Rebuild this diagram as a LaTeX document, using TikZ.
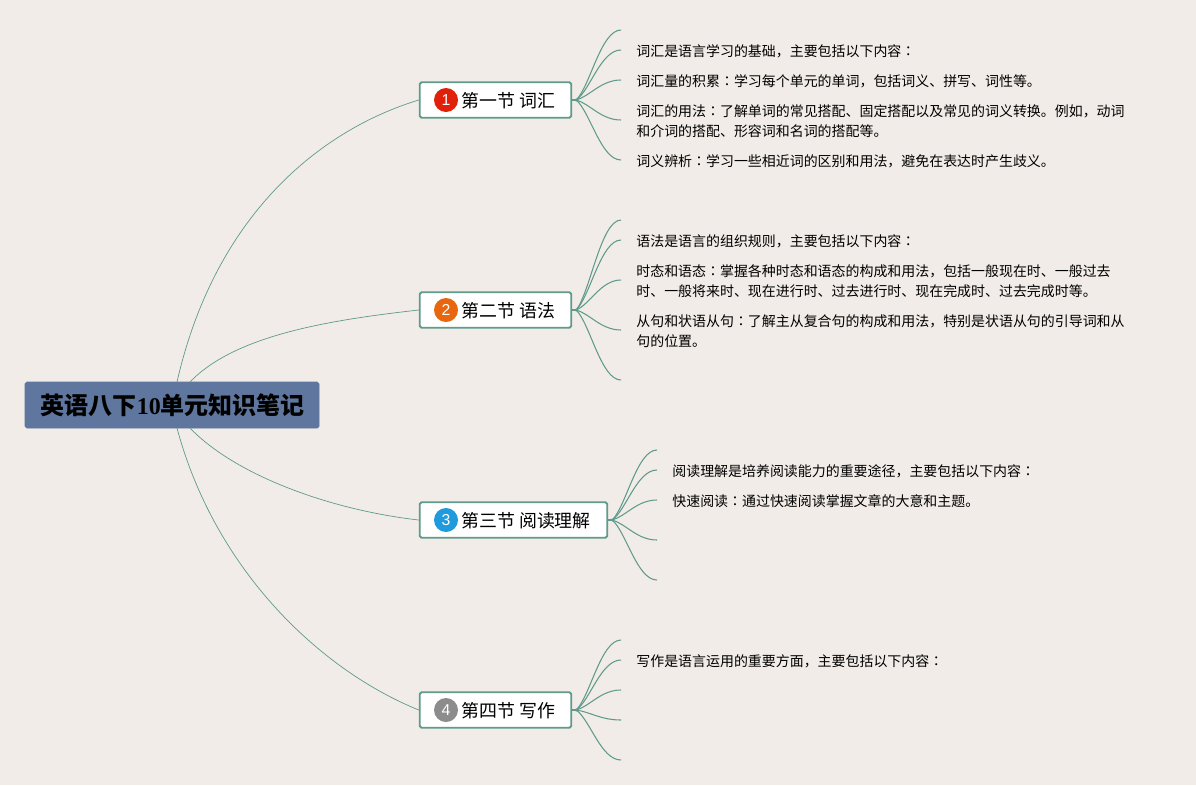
\documentclass[tikz,border=0pt]{standalone}
\usepackage{fontspec}
\setmainfont{Noto Sans CJK SC}
\newfontfamily\digitfont{Liberation Serif}
\newfontfamily\badgefont{Liberation Sans}
\newfontfamily\colonfont{Noto Sans CJK TC}
\newcommand{\mycolon}{{\colonfont ：}}
\usetikzlibrary{positioning,calc}
\definecolor{paper}{HTML}{F1ECE7}
\definecolor{branchgreen}{HTML}{5F9A8C}
\definecolor{rootblue}{HTML}{5F779E}
\tikzset{
    rootnode/.style={draw=rootblue,fill=rootblue,rounded corners=1pt,minimum width=294*0.02cm,minimum height=46*0.02cm,inner sep=0,font=\fontsize{13.65pt}{16pt}\selectfont\bfseries},
    sectionnode/.style={draw=branchgreen,fill=white,line width=1.1pt,rounded corners=1pt,minimum height=35.5*0.02cm,inner sep=0,anchor=west,font=\fontsize{10pt}{12pt}\selectfont},
    badge/.style={circle,fill=#1,text=white,minimum size=24*0.02cm,inner sep=0,font=\badgefont\fontsize{9pt}{10pt}\selectfont},
    leafnode/.style={anchor=west,inner sep=0,align=left,font=\fontsize{7.94pt}{11.3pt}\selectfont},
    rootline/.style={branchgreen,line width=0.4pt},
    leafline/.style={branchgreen,line width=0.6pt},
}
\begin{document}
\begin{tikzpicture}[x=0.02cm,y=-0.02cm]
    \useasboundingbox[fill=paper] (0,0) rectangle (1196,785);
    \node[rootnode] (root) at (172,405) {\hspace{1pt}\raisebox{-1.1pt}{英语八下{\digitfont 10}单元知识笔记}};
    \coordinate (rootne) at (177,382);
    \coordinate (rootnf) at (190,382);
    \coordinate (rootse) at (190,428);
    \coordinate (rootsf) at (177,428);
    % sections
    \node[sectionnode,minimum width=151.5*0.02cm] (sec1) at (418.8,100) {};
    \node[sectionnode,minimum width=151.5*0.02cm] (sec2) at (418.8,310) {};
    \node[sectionnode,minimum width=187.5*0.02cm] (sec3) at (418.8,520) {};
    \node[sectionnode,minimum width=151.5*0.02cm] (sec4) at (418.8,710) {};
    \foreach \n/\y/\c/\t in {1/100/E0200A/第一节 词汇,2/310/E8660F/第二节 语法,3/520/1F9BDD/第三节 阅读理解,4/710/8C8C8C/第四节 写作}{
        \definecolor{badgecol}{HTML}{\c}
        \node[badge=badgecol] (num\n) at (446,\y) {\n};
        \node[anchor=west,inner sep=0,yshift=-0.02cm,font=\fontsize{10.2pt}{12pt}\selectfont] (title\n) at (461,\y) {\t};
    }
    \draw[rootline] (rootne) .. controls (215,215) and (320,130) .. (sec1.west);
    \draw[rootline] (rootnf) .. controls (235,335) and (330,320) .. (sec2.west);
    \draw[rootline] (rootse) .. controls (235,475) and (330,510) .. (sec3.west);
    \draw[rootline] (rootsf) .. controls (215,570) and (320,670) .. (sec4.west);
    % leaf ends
    \foreach \n/\x/\ylist in {1/621/{30,50,80,120,160},2/621/{220,240,280,330,380},3/657/{450,470,500,540,580},4/621/{640,660,690,720,760}}{
        \coordinate (hub\n) at ($(sec\n.east)+(4,0)$);
        \foreach \y [count=\i] in \ylist {
            \coordinate (end\n\i) at (\x,\y);
            \draw[leafline] (sec\n.east) -- (hub\n) .. controls ($($(hub\n)!0.2!(end\n\i)$)+(5,0)$) and ($(end\n\i)+(-20,0)$) .. (end\n\i);
        }
        \fill[branchgreen] (hub\n) circle (1.6);
    }
    % texts
    \node[leafnode] (leaf11) at (636,51.5) {词汇是语言学习的基础，主要包括以下内容\mycolon};
    \node[leafnode] (leaf12) at (636,81.5) {词汇量的积累\mycolon 学习每个单元的单词，包括词义、拼写、词性等。};
    \node[leafnode] (leaf13) at (636,121.5) {词汇的用法\mycolon 了解单词的常见搭配、固定搭配以及常见的词义转换。例如，动词\\和介词的搭配、形容词和名词的搭配等。};
    \node[leafnode] (leaf14) at (636,161.5) {词义辨析\mycolon 学习一些相近词的区别和用法，避免在表达时产生歧义。};
    \node[leafnode] (leaf21) at (636,241.5) {语法是语言的组织规则，主要包括以下内容\mycolon};
    \node[leafnode] (leaf22) at (636,281.5) {时态和语态\mycolon 掌握各种时态和语态的构成和用法，包括一般现在时、一般过去\\时、一般将来时、现在进行时、过去进行时、现在完成时、过去完成时等。};
    \node[leafnode] (leaf23) at (636,331.5) {从句和状语从句\mycolon 了解主从复合句的构成和用法，特别是状语从句的引导词和从\\句的位置。};
    \node[leafnode] (leaf31) at (672,471.5) {阅读理解是培养阅读能力的重要途径，主要包括以下内容\mycolon};
    \node[leafnode] (leaf32) at (672,501.5) {快速阅读\mycolon 通过快速阅读掌握文章的大意和主题。};
    \node[leafnode] (leaf41) at (636,661.5) {写作是语言运用的重要方面，主要包括以下内容\mycolon};
\end{tikzpicture}
\end{document}
